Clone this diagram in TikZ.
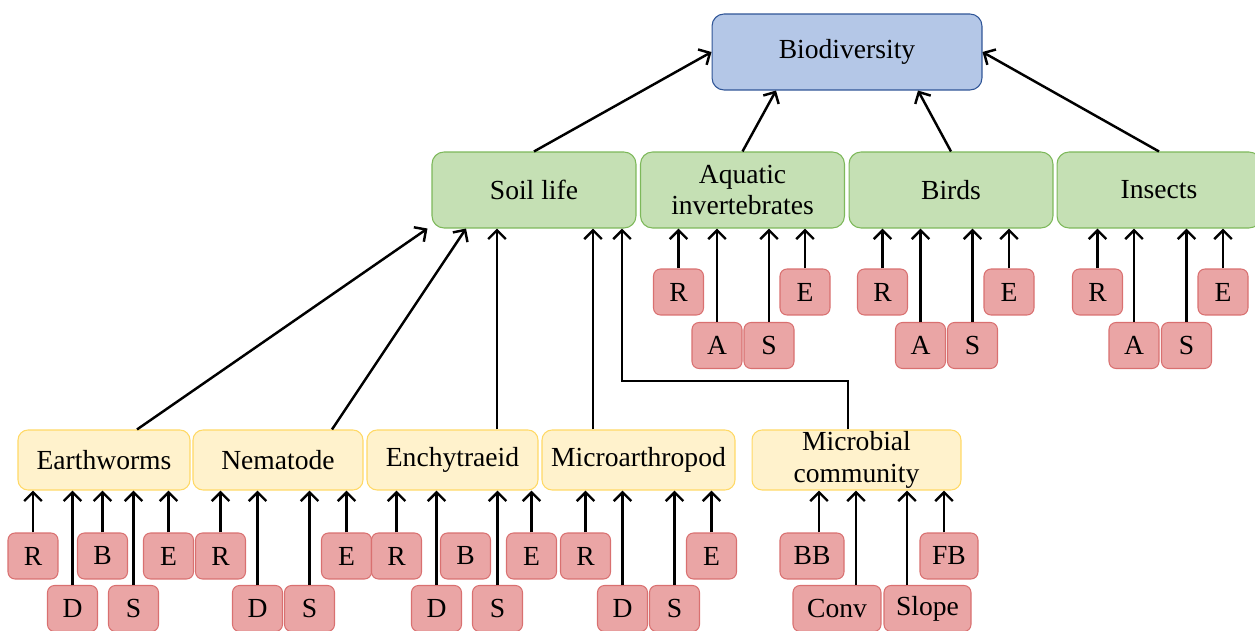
\documentclass[tikz,border=0pt]{standalone}
\usepackage{fontspec}
\setmainfont{Liberation Serif}
\usepackage{tikz}
\usetikzlibrary{arrows.meta}
\definecolor{biofill}{HTML}{B4C7E7}
\definecolor{bioline}{HTML}{2F5597}
\definecolor{grpfill}{HTML}{C5E0B4}
\definecolor{grpline}{HTML}{7DB85A}
\definecolor{taxfill}{HTML}{FFF2CC}
\definecolor{taxline}{HTML}{FFD966}
\definecolor{indfill}{HTML}{EAA5A5}
\definecolor{indline}{HTML}{D97070}

\begin{document}
\begin{tikzpicture}[x=0.02cm, y=-0.02cm,
    every node/.style={rectangle, line width=0.6pt, inner sep=0pt, align=center,
        font=\fontsize{15.7}{18}\selectfont},
    top/.style={draw=bioline, fill=biofill, rounded corners=0.24cm, minimum width=5.4cm, minimum height=1.52cm},
    group/.style={draw=grpline, fill=grpfill, rounded corners=0.24cm, minimum width=4.08cm, minimum height=1.52cm},
    taxon/.style={draw=taxline, fill=taxfill, rounded corners=0.2cm, minimum height=1.2cm},
    ind/.style={draw=indline, fill=indfill, rounded corners=0.14cm, minimum width=1cm, minimum height=0.92cm},
    arr/.style={-{Straight Barb[length=5pt,width=10pt]}, line width=1.4pt}]

    \useasboundingbox (0,0) rectangle (1255,631);

    % top and groups
    \node[top] (bio) at (847,52) {Biodiversity};
    \node[group] (soil) at (534,190) {Soil life};
    \node[group] (aqu) at (742.5,190) {Aquatic\\invertebrates};
    \node[group] (bir) at (951,190) {Birds};
    \node[group] (ins) at (1159,190) {Insects};

    % soil taxa
    \node[taxon, minimum width=3.44cm] (ew) at (104,460) {Earthworms};
    \node[taxon, minimum width=3.4cm] (nem) at (278,460) {Nematode};
    \node[taxon, minimum width=3.42cm] (enc) at (452.5,460) {Enchytraeid};
    \node[taxon, minimum width=3.86cm] (mar) at (638.5,460) {Microarthropod};
    \node[taxon, minimum width=4.18cm] (mic) at (856.5,460) {Microbial\\community};

    % indicators
    \node[ind] (ewR) at (33,556) {R};
    \node[ind] (ewB) at (102.5,556) {B};
    \node[ind] (ewE) at (168.5,556) {E};
    \node[ind] (ewD) at (72.5,608.5) {D};
    \node[ind] (ewS) at (133.5,608.5) {S};

    \node[ind] (nemR) at (220.5,556) {R};
    \node[ind] (nemE) at (346.5,556) {E};
    \node[ind] (nemD) at (257.5,608.5) {D};
    \node[ind] (nemS) at (309.5,608.5) {S};

    \node[ind] (encR) at (396.5,556) {R};
    \node[ind] (encB) at (465.5,556) {B};
    \node[ind] (encE) at (531.5,556) {E};
    \node[ind] (encD) at (436.5,608.5) {D};
    \node[ind] (encS) at (497.5,608.5) {S};

    \node[ind] (marR) at (585.5,556) {R};
    \node[ind] (marE) at (711.5,556) {E};
    \node[ind] (marD) at (622.5,608.5) {D};
    \node[ind] (marS) at (674.5,608.5) {S};

    \node[ind, minimum width=1.28cm] (micBB) at (812,556) {BB};
    \node[ind, minimum width=1.16cm] (micFB) at (949,556) {FB};
    \node[ind, minimum width=1.76cm] (micConv) at (837,608.5) {Conv};
    \node[ind, minimum width=1.74cm] (micSlope) at (927.5,608.5) {Slope};

    \node[ind] (aquR) at (678.5,292) {R};
    \node[ind] (aquE) at (805,292) {E};
    \node[ind] (aquA) at (717,345.5) {A};
    \node[ind] (aquS) at (769,345.5) {S};

    \node[ind] (birR) at (882.5,292) {R};
    \node[ind] (birE) at (1009,292) {E};
    \node[ind] (birA) at (920.5,345.5) {A};
    \node[ind] (birS) at (972.5,345.5) {S};

    \node[ind] (insR) at (1097.5,292) {R};
    \node[ind] (insE) at (1223,292) {E};
    \node[ind] (insA) at (1134,345.5) {A};
    \node[ind] (insS) at (1186.5,345.5) {S};

    % groups to biodiversity
    \draw[arr] (soil.north) -- (bio.west);
    \draw[arr] (aqu.north) -- ([xshift=-1.42cm]bio.south);
    \draw[arr] (bir.north) -- ([xshift=1.42cm]bio.south);
    \draw[arr] (ins.north) -- (bio.east);

    % taxa to soil life
    \coordinate (bend) at (622,381);
    \draw[arr] ([xshift=0.66cm]ew.north) -- ([xshift=-0.08cm]soil.south west);
    \draw[arr] ([xshift=1.08cm]nem.north) -- ([xshift=-1.36cm]soil.south);
    \draw[arr] ([xshift=0.89cm]enc.north) -- ([xshift=0.89cm]enc.north |- soil.south);
    \draw[arr] ([xshift=-0.91cm]mar.north) -- ([xshift=-0.91cm]mar.north |- soil.south);
    \draw[arr] ([xshift=-0.17cm]mic.north) |- (bend) -- (bend |- soil.south);

    % indicators to taxa
    \draw[arr] (ewR) -- (ewR |- ew.south);
    \draw[arr] (ewD) -- (ewD |- ew.south);
    \draw[arr] (ewB) -- (ewB |- ew.south);
    \draw[arr] (ewS) -- (ewS |- ew.south);
    \draw[arr] (ewE) -- (ewE |- ew.south);

    \draw[arr] (nemR) -- (nemR |- nem.south);
    \draw[arr] (nemD) -- (nemD |- nem.south);
    \draw[arr] (nemS) -- (nemS |- nem.south);
    \draw[arr] (nemE) -- (nemE |- nem.south);

    \draw[arr] (encR) -- (encR |- enc.south);
    \draw[arr] (encD) -- (encD |- enc.south);
    \draw[arr] (encS) -- (encS |- enc.south);
    \draw[arr] (encE) -- (encE |- enc.south);

    \draw[arr] (marR) -- (marR |- mar.south);
    \draw[arr] (marD) -- (marD |- mar.south);
    \draw[arr] (marS) -- (marS |- mar.south);
    \draw[arr] (marE) -- (marE |- mar.south);

    \draw[arr] ([xshift=0.14cm]micBB.north) -- ([xshift=0.14cm]micBB.north |- mic.south);
    \draw[arr] ([xshift=0.38cm]micConv.north) -- ([xshift=0.38cm]micConv.north |- mic.south);
    \draw[arr] ([xshift=-0.41cm]micSlope.north) -- ([xshift=-0.41cm]micSlope.north |- mic.south);
    \draw[arr] ([xshift=-0.1cm]micFB.north) -- ([xshift=-0.1cm]micFB.north |- mic.south);

    % indicators to groups
    \draw[arr] (aquR) -- (aquR |- aqu.south);
    \draw[arr] (aquA) -- (aquA |- aqu.south);
    \draw[arr] (aquS) -- (aquS |- aqu.south);
    \draw[arr] (aquE) -- (aquE |- aqu.south);

    \draw[arr] (birR) -- (birR |- bir.south);
    \draw[arr] (birA) -- (birA |- bir.south);
    \draw[arr] (birS) -- (birS |- bir.south);
    \draw[arr] (birE) -- (birE |- bir.south);

    \draw[arr] (insR) -- (insR |- ins.south);
    \draw[arr] (insA) -- (insA |- ins.south);
    \draw[arr] (insS) -- (insS |- ins.south);
    \draw[arr] (insE) -- (insE |- ins.south);
\end{tikzpicture}
\end{document}
